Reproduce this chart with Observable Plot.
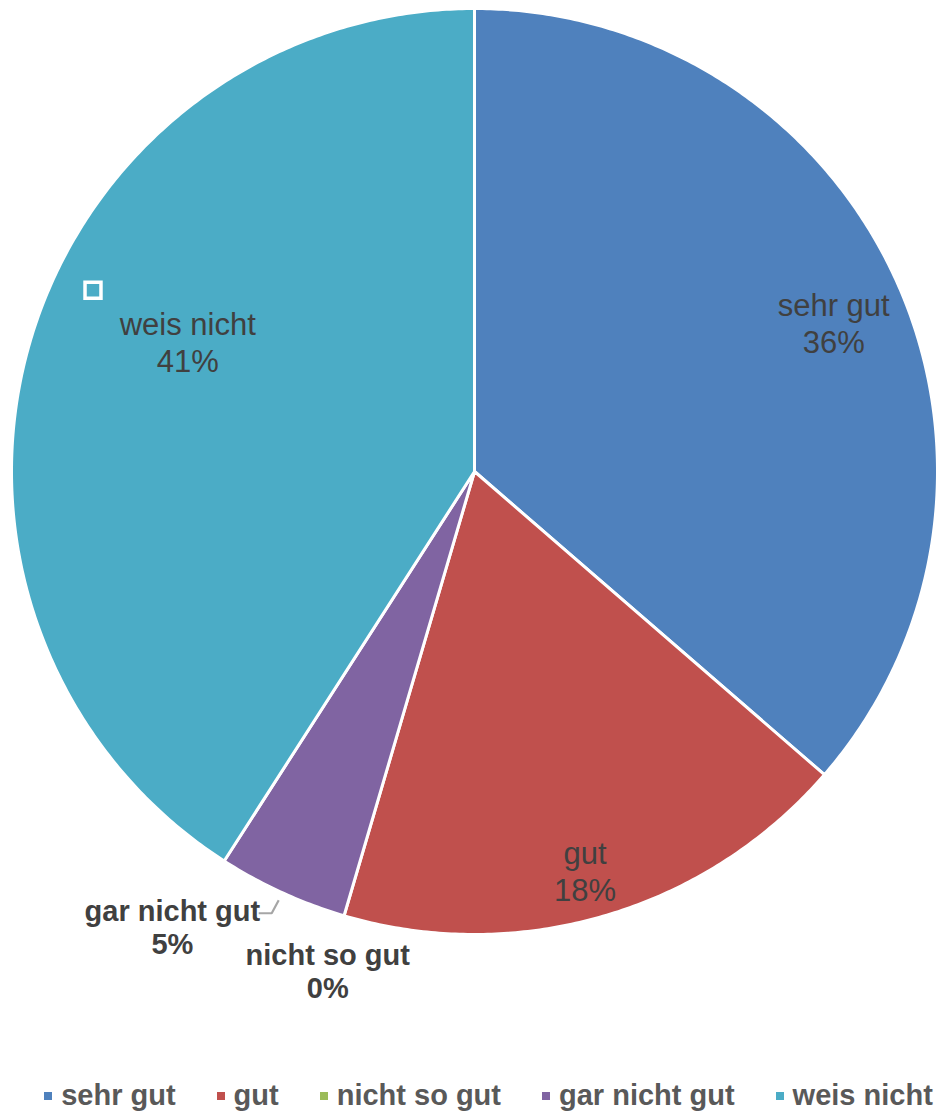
<!DOCTYPE html>
<html><head><meta charset="utf-8">
<script src="https://cdn.jsdelivr.net/npm/d3@7"></script>
<script src="https://cdn.jsdelivr.net/npm/@observablehq/plot@0.6"></script>
<style>
html,body{margin:0;padding:0;background:#fff;overflow:hidden;}
#chart svg{display:block;}
.legend{display:flex;justify-content:center;align-items:center;height:37px;font-family:"Liberation Sans",Arial,sans-serif;font-weight:bold;font-size:29px;color:#595959;padding-left:39px;gap:41px;}
.legend .item{display:flex;align-items:center;gap:9px;white-space:nowrap;}
.legend .sw{width:8px;height:8px;display:inline-block;}
</style></head><body>
<div id="chart"></div><div class="legend" id="legend"></div>
<script>
const categories = ["sehr gut", "gut", "nicht so gut", "gar nicht gut", "weis nicht"];
const counts = [8, 4, 0, 1, 9];
const colors = ["#4F81BD", "#C0504D", "#9BBB59", "#8064A2", "#4BACC6"];

const W = 938, H = 1077, CX = 474, CY = 471, R = 463;
const FONT = "'Liberation Sans', Arial, sans-serif";

const data = categories.map((c, i) => ({cat: c, value: counts[i]}));
const total = d3.sum(counts);
const arcs = d3.pie().sort(null).value(d => d.value)(data);
const polar = (a, r) => ({x: r * Math.sin(a), y: r * Math.cos(a)});

const poly = [];
arcs.forEach(a => {
  const span = a.endAngle - a.startAngle;
  if (span <= 0) return;
  const n = Math.max(2, Math.ceil(span / (Math.PI / 360)));
  poly.push({cat: a.data.cat, x: 0, y: 0});
  for (let k = 0; k <= n; k++) {
    const t = a.startAngle + span * k / n;
    poly.push({cat: a.data.cat, ...polar(t, R)});
  }
  poly.push({cat: a.data.cat, x: 0, y: 0});
});

// label placement: [angle offset in degrees from slice middle, radius factor, outside/bold]
const layout = {
  "sehr gut": [2.0, 0.84, false],
  "gut": [0.9, 0.895, false],
  "nicht so gut": [0, 1.125, true],
  "gar nicht gut": [9.0, 1.181, true],
  "weis nicht": [8.0, 0.68, false]
};
const labels = arcs.map(a => {
  const mid = (a.startAngle + a.endAngle) / 2;
  const [off, k, bold] = layout[a.data.cat];
  const p = polar(mid + off * Math.PI / 180, k * R);
  return {...p, text: a.data.cat + "\n" + Math.round(a.data.value / total * 100) + "%", bold};
});

const g = arcs.find(a => a.data.cat === "gar nicht gut");
const gMid = (g.startAngle + g.endAngle) / 2;
const lEnd = polar(gMid, 1.018 * R);
const lElbow = {x: lEnd.x - 7, y: lEnd.y - 13};
const lStart = {x: lElbow.x - 13, y: lElbow.y};
const leader = [lStart, lElbow, lEnd];

const handle = [{x: 92.5 - CX, y: CY - 289.7}];

const chart = Plot.plot({
  width: W, height: H, margin: 0,
  style: {background: "white"},
  x: {domain: [-CX, W - CX], axis: null},
  y: {domain: [CY - H, CY], axis: null},
  color: {domain: categories, range: colors},
  marks: [
    Plot.line(poly, {x: "x", y: "y", z: "cat", fill: "cat", stroke: "white", strokeWidth: 3, strokeLinejoin: "round", curve: "linear"}),
    Plot.line(leader, {x: "x", y: "y", stroke: "#A6A6A6", strokeWidth: 2.2, strokeLinejoin: "miter", strokeLinecap: "butt"}),
    Plot.text(labels.filter(d => !d.bold), {x: "x", y: "y", text: "text", fontSize: 31, lineHeight: 1.2, fill: "#404040", fontFamily: FONT}),
    Plot.text(labels.filter(d => d.bold), {x: "x", y: "y", text: "text", fontSize: 29, lineHeight: 1.14, fill: "#404040", fontWeight: "bold", fontFamily: FONT}),
    Plot.dot(handle, {x: "x", y: "y", symbol: "square", r: 9, stroke: "white", strokeWidth: 3.5, fill: "none"})
  ]
});
document.getElementById("chart").appendChild(chart);

const leg = d3.select("#legend");
categories.forEach((c, i) => {
  const it = leg.append("div").attr("class", "item");
  it.append("span").attr("class", "sw").style("background", colors[i]);
  it.append("span").text(c);
});
</script>
</body></html>
